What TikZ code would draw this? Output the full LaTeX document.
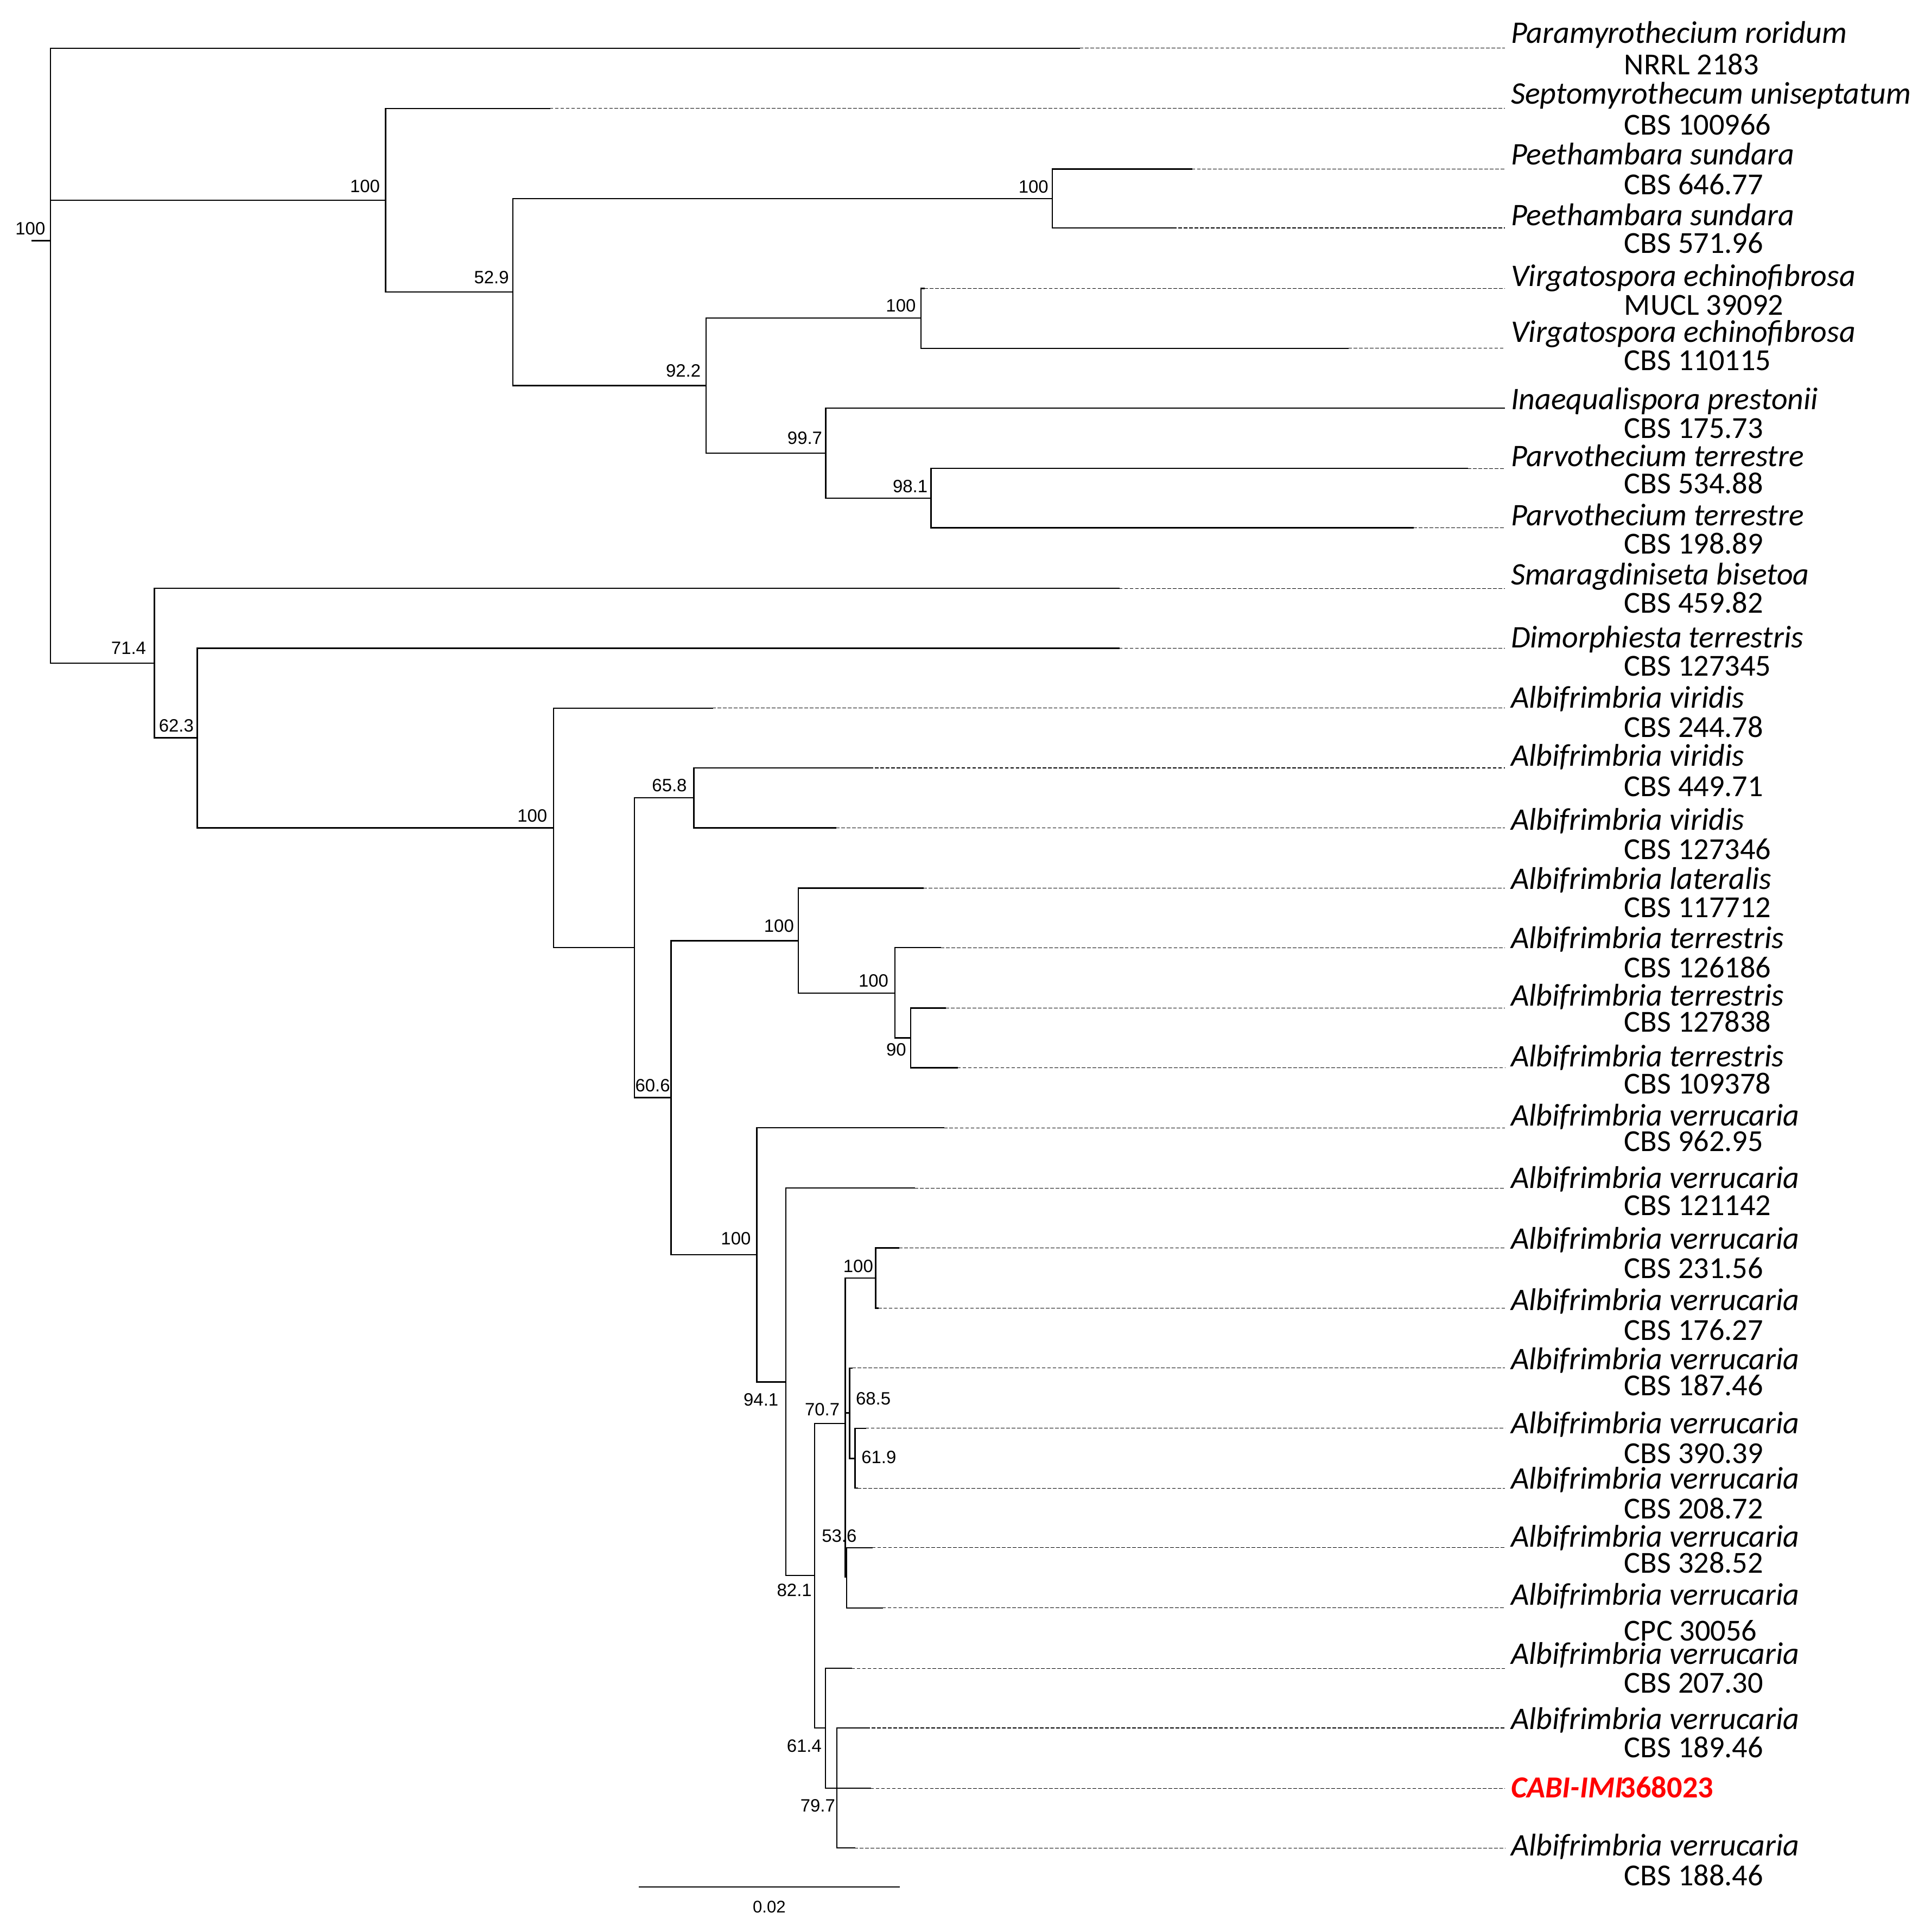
\documentclass[tikz,border=0pt]{standalone}
\usepackage{fontspec}
\setmainfont{Carlito}
\newfontfamily\arialf{Liberation Sans}
\begin{document}
\begin{tikzpicture}[x=1pt,y=-1pt,
  br/.style={line width=1.1pt, line cap=rect},
  dl/.style={line width=0.5pt, dash pattern=on 3pt off 1.4pt},
  taxname/.style={anchor=base west, inner sep=0pt, font=\fontsize{25.5}{25.5}\selectfont\itshape},
  strain/.style={anchor=base west, inner sep=0pt, font=\fontsize{24.8}{24.8}\selectfont},
  bsr/.style={anchor=base east, inner sep=0pt, font=\arialf\fontsize{14.5}{14.5}\selectfont},
  bsl/.style={anchor=base west, inner sep=0pt, font=\arialf\fontsize{14.5}{14.5}\selectfont}]
\useasboundingbox (0,0) rectangle (1562,1568);
% leaves: solid end coordinates and dashed ends
\foreach \i/\yy/\sx in {1/39.1/876, 2/88.0/446, 3/137.3/967, 4/185.0/952, 5/234.1/750,
  6/282.7/1094, 7/331.2/1219, 8/380.2/1191, 9/428.4/1147, 10/477.5/908, 11/526.1/908,
  12/574.7/578, 13/623.2/705.5, 14/672.0/678.3, 15/720.8/749.3, 16/769.1/763.3,
  17/818.1/767.3, 18/866.6/776.8, 19/915.3/765.8, 20/964.2/742.2, 21/1012.8/729.4,
  22/1061.7/712.5, 23/1110.3/691.5, 24/1159.2/702.3, 25/1207.8/696, 26/1256.1/707.6,
  27/1305.0/716.0, 28/1354.0/690.9, 29/1402.4/703.1, 30/1451.3/706.3, 31/1499.8/693.4}{
  \coordinate (L\i) at (\sx,\yy);
  \coordinate (E\i) at (1221.5,\yy);
  \draw[dl] (L\i) -- (E\i);
}
% internal nodes
\coordinate (stub) at (26.3,195.4);
\coordinate (root) at (41,195.4);
\coordinate (nA) at (313.0,162.5);
\coordinate (nB) at (416.2,237.0);
\coordinate (nC) at (854,161.1);
\coordinate (nD) at (573.0,313.0);
\coordinate (nE) at (747.4,258.2);
\coordinate (nF) at (670.1,367.8);
\coordinate (nG) at (755.5,404.3);
\coordinate (nH) at (125.4,538.2);
\coordinate (nI) at (160.1,598.8);
\coordinate (nJ) at (449.3,672.0);
\coordinate (nK) at (514.9,769.1);
\coordinate (nL) at (563.0,647.5);
\coordinate (nM) at (544.6,890.7);
\coordinate (nN) at (648.0,763.5);
\coordinate (nO) at (726.2,806.0);
\coordinate (nP) at (739.0,842.4);
\coordinate (nQ) at (614.2,1018.4);
\coordinate (nR) at (637.8,1121.5);
\coordinate (nS) at (661.2,1278.6);
\coordinate (nT) at (686.0,1155.3);
\coordinate (nU) at (710.7,1037.3);
\coordinate (nV) at (689.5,1146.6);
\coordinate (nW) at (694.0,1183.7);
\coordinate (nX) at (687.0,1280.0);
\coordinate (nY) at (670.0,1402.4);
\coordinate (nZ) at (679.2,1451.3);
% branches
\draw[br] (stub) -- (root);
\foreach \p/\c in {root/L1, root/nA, root/nH, nA/L2, nA/nB, nB/nC, nB/nD, nC/L3, nC/L4,
  nD/nE, nD/nF, nE/L5, nE/L6, nF/L7, nF/nG, nG/L8, nG/L9, nH/L10, nH/nI, nI/L11, nI/nJ,
  nJ/L12, nJ/nK, nK/nL, nK/nM, nL/L13, nL/L14, nM/nN, nM/nQ, nN/L15, nN/nO, nO/L16, nO/nP,
  nP/L17, nP/L18, nQ/L19, nQ/nR, nR/L20, nR/nS, nS/nT, nS/nY, nT/nU, nT/nV, nT/nX,
  nU/L21, nU/L22, nV/L23, nV/nW, nW/L24, nW/L25, nX/L26, nX/L27, nY/L28, nY/nZ,
  nZ/L29, nZ/L30, nZ/L31}{
  \draw[br] (\p) |- (\c);
}
% support values
\node[bsr] (b0) at (36.9,190.6) {100};
\node[bsr] (bA) at (308.5,156.3) {100};
\node[bsr] (bB) at (413.2,230.1) {52.9};
\node[bsr] (bC) at (851,156.5) {100};
\node[bsr] (bD) at (568.9,306.0) {92.2};
\node[bsr] (bE) at (743.4,253.1) {100};
\node[bsr] (bF) at (667.5,360.5) {99.7};
\node[bsr] (bG) at (753.0,399.9) {98.1};
\node[bsr] (bH) at (118.7,531.0) {71.4};
\node[bsr] (bI) at (157.4,593.9) {62.3};
\node[bsr] (bJ) at (444.3,667.1) {100};
\node[bsr] (bL) at (557.6,642.4) {65.8};
\node[bsr] (bN) at (644.5,756.5) {100};
\node[bsr] (bO) at (721.2,800.8) {100};
\node[bsr] (bP) at (735.6,856.8) {90};
\node[bsr] (bM) at (544.0,886.0) {60.6};
\node[bsr] (bQ) at (609.5,1010.3) {100};
\node[bsr] (bR) at (631.9,1140.9) {94.1};
\node[bsr] (bU) at (708.8,1032.8) {100};
\node[bsr] (bT) at (681.6,1148.8) {70.7};
\node[bsl] (bV) at (694.4,1140.1) {68.5};
\node[bsl] (bW) at (698.9,1187.8) {61.9};
\node[bsr] (bX) at (695.4,1251.4) {53.6};
\node[bsr] (bS) at (659.0,1295.5) {82.1};
\node[bsr] (bY) at (667.0,1421.8) {61.4};
\node[bsr] (bZ) at (678.0,1470.6) {79.7};
% taxon labels
\foreach \i/\nb/\nm/\st/\sb in {
  1/35.2/Paramyrothecium roridum/NRRL 2183/60.6,
  2/84.4/Septomyrothecum uniseptatum/CBS 100966/109.4,
  3/133.6/Peethambara sundara/CBS 646.77/157.9,
  4/182.8/Peethambara sundara/CBS 571.96/205.6,
  5/232.5/Virgatospora echinofibrosa/MUCL 39092/255.5,
  6/277.5/Virgatospora echinofibrosa/CBS 110115/300.5,
  7/332.5/Inaequalispora prestonii/CBS 175.73/355.5,
  8/378.5/Parvothecium terrestre/CBS 534.88/400.5,
  9/426.5/Parvothecium terrestre/CBS 198.89/449.5,
  10/474.5/Smaragdiniseta bisetoa/CBS 459.82/497.5,
  11/525.5/Dimorphiesta terrestris/CBS 127345/548.5,
  12/574.5/Albifrimbria viridis/CBS 244.78/598.5,
  13/621.5/Albifrimbria viridis/CBS 449.71/646.5,
  14/673.5/Albifrimbria viridis/CBS 127346/697.5,
  15/721.5/Albifrimbria lateralis/CBS 117712/744.5,
  16/769.5/Albifrimbria terrestris/CBS 126186/793.5,
  17/816.5/Albifrimbria terrestris/CBS 127838/837.5,
  18/865.5/Albifrimbria terrestris/CBS 109378/887.5,
  19/913.5/Albifrimbria verrucaria/CBS 962.95/934.5,
  20/964.5/Albifrimbria verrucaria/CBS 121142/986.5,
  21/1013.5/Albifrimbria verrucaria/CBS 231.56/1037.5,
  22/1063.5/Albifrimbria verrucaria/CBS 176.27/1087.5,
  23/1111.5/Albifrimbria verrucaria/CBS 187.46/1132.5,
  24/1163.5/Albifrimbria verrucaria/CBS 390.39/1187.5,
  25/1208.5/Albifrimbria verrucaria/CBS 208.72/1232.5,
  26/1255.5/Albifrimbria verrucaria/CBS 328.52/1276.5,
  27/1302.5/Albifrimbria verrucaria/CPC 30056/1331.5,
  28/1350.5/Albifrimbria verrucaria/CBS 207.30/1374.1,
  29/1403.5/Albifrimbria verrucaria/CBS 189.46/1426.5,
  31/1506.3/Albifrimbria verrucaria/CBS 188.46/1530.5}{
  \node[taxname] (t\i) at (1226,\nb) {\nm};
  \node[strain] (s\i) at (1318,\sb) {\st};
}
\node[taxname, text=red, font=\fontsize{24.8}{24.8}\selectfont\bfseries] (t30) at (1226,1458.9)
  {\textit{CABI-IMI}\kern-2pt368023};
% scale bar
\coordinate (sbL) at (519,1531.4);
\coordinate (sbR) at (729.8,1531.4);
\draw[br] (sbL) -- (sbR);
\node[anchor=base, inner sep=0pt, font=\arialf\fontsize{13.7}{13.7}\selectfont] (sbt) at (624.3,1552.4) {0.02};
\end{tikzpicture}
\end{document}
